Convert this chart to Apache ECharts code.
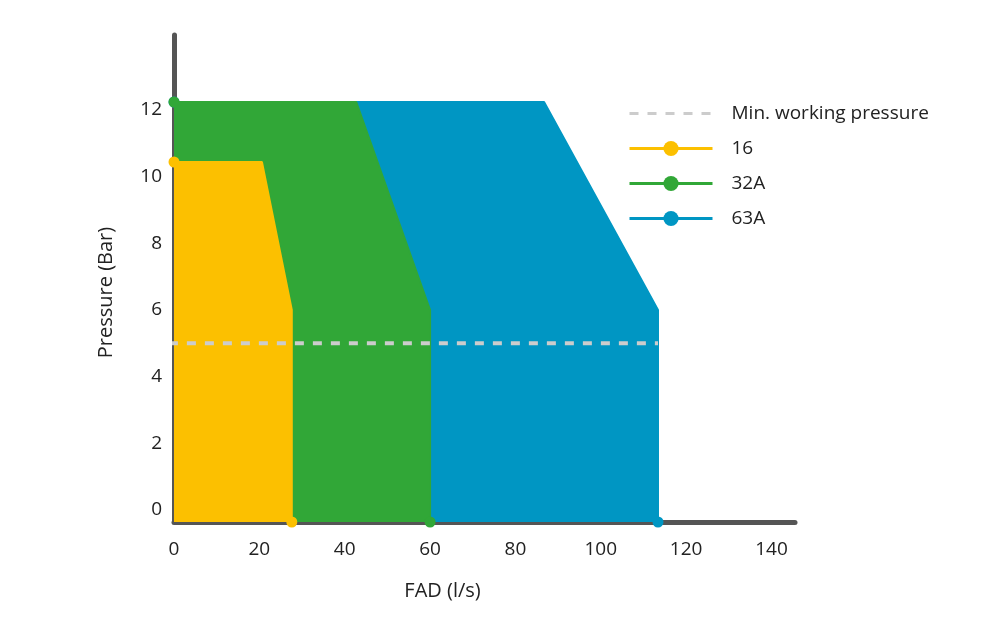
<!DOCTYPE html>
<html>
<head>
<meta charset="utf-8">
<script src="https://cdn.jsdelivr.net/npm/echarts@6/dist/echarts.min.js"></script>
<style>
html,body{margin:0;padding:0;background:#fff;}
#chart{width:997px;height:638px;}
</style>
</head>
<body>
<div id="chart"></div>
<script>
// ---- data ----
const xTickLabels = [0, 20, 40, 60, 80, 100, 120, 140];
const yTickLabels = [0, 2, 4, 6, 8, 10, 12];
const axisFloor = -0.36;          // where the drawn x axis sits on the pressure scale

const fad16   = [0, 20.6, 27.6, 27.6];
const pres16  = [10.44, 10.44, 6, axisFloor];
const fad32A  = [0, 42.7, 60, 60];
const pres32A = [12.24, 12.24, 6, axisFloor];
const fad63A  = [0, 86.7, 113.4, 113.4];
const pres63A = [12.24, 12.24, 6, axisFloor];

const minWorkFad = [-1.2, 113.4];
const minWorkPres = [5, 5];

const seriesNames = ['Min. working pressure', '16', '32A', '63A'];
const colors = { '16': '#fcc000', '32A': '#31a737', '63A': '#0096c3', min: '#cccccc' };

function pts(xs, ys) {
  return xs.map((x, i) => {
    const show = (i === 0 || i === xs.length - 1);
    return { value: [x, ys[i]], symbol: show ? 'circle' : 'none' };
  });
}

function areaSeries(name, xs, ys, z) {
  const c = colors[name];
  return {
    name: name, type: 'line', data: pts(xs, ys), z: z,
    symbol: 'circle', symbolSize: 11, showSymbol: true,
    clip: false,
    lineStyle: { color: c, width: 2 },
    itemStyle: { color: c },
    areaStyle: { color: c, opacity: 1, origin: 'start' },
    emphasis: { disabled: true },
    animation: false
  };
}

const chart = echarts.init(document.getElementById('chart'), null, { renderer: 'canvas' });
const font = 'Open Sans';
chart.setOption({
  backgroundColor: '#fff',
  animation: false,
  grid: { left: 174, top: 35, right: 202, bottom: 116, containLabel: false },
  legend: {
    data: [
      { name: seriesNames[0], itemStyle: { color: 'rgba(0,0,0,0)', opacity: 0 } },
      seriesNames[1], seriesNames[2], seriesNames[3]
    ],
    orient: 'vertical',
    left: 623, top: 99,
    itemWidth: 83, itemHeight: 19, itemGap: 16,
    lineStyle: { width: 3 },
    textStyle: { fontFamily: font, fontSize: 19, color: '#222', padding: [0, 0, 0, 14] }
  },
  xAxis: {
    type: 'value', min: 0, max: 145.5,
    name: 'FAD (l/s)', nameLocation: 'middle', nameGap: 59,
    nameTextStyle: { fontFamily: font, fontSize: 20, color: '#222', padding: [0, 84, 0, 0] },
    axisLine: { show: true, onZero: false, lineStyle: { color: '#555', width: 5 } },
    axisTick: { show: false },
    splitLine: { show: false },
    axisLabel: { customValues: xTickLabels, margin: 18, fontFamily: font, fontSize: 19, color: '#222' }
  },
  yAxis: {
    type: 'value', min: axisFloor, max: 14.25,
    name: 'Pressure (Bar)', nameLocation: 'middle', nameGap: 58, nameRotate: 90,
    nameTextStyle: { fontFamily: font, fontSize: 20, color: '#222', padding: [0, 28, 0, 0] },
    axisLine: { show: true, onZero: false, lineStyle: { color: '#555', width: 5 } },
    axisTick: { show: false },
    splitLine: { show: false },
    axisLabel: { customValues: yTickLabels, margin: 12, fontFamily: font, fontSize: 19, color: '#222', padding: [4, 0, 0, 0] }
  },
  series: [
    {
      name: 'Min. working pressure', type: 'line', z: 10,
      data: minWorkFad.map((x, i) => [x, minWorkPres[i]]),
      symbol: 'none', clip: false,
      lineStyle: { color: colors.min, width: 4, type: [9, 9] },
      itemStyle: { color: 'rgba(0,0,0,0)' },
      emphasis: { disabled: true },
      animation: false
    },
    areaSeries('63A', fad63A, pres63A, 3),
    areaSeries('32A', fad32A, pres32A, 4),
    areaSeries('16', fad16, pres16, 5)
  ]
});
</script>
</body>
</html>
